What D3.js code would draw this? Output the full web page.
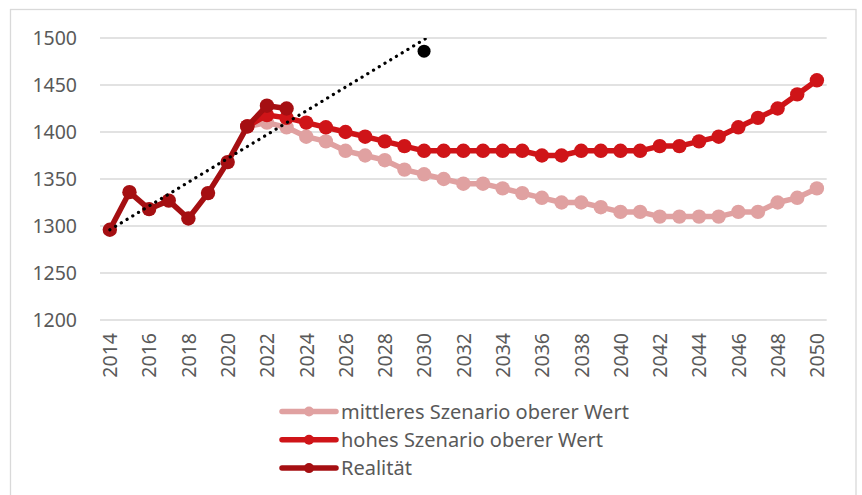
<!DOCTYPE html>
<html>
<head>
<meta charset="utf-8">
<script src="https://cdn.jsdelivr.net/npm/d3@7/dist/d3.min.js"></script>
<style>
  html, body { margin: 0; padding: 0; background: #fff; }
  svg { display: block; }
  text { font-family: "Noto Sans", "Open Sans", sans-serif; fill: #595959; }
</style>
</head>
<body>
<svg id="chart" width="862" height="495"></svg>
<script>
// ---- data ----
const years = d3.range(2014, 2051);
const yTicks = [1200, 1250, 1300, 1350, 1400, 1450, 1500];
const xTickYears = d3.range(2014, 2051, 2);

const realYears = [2014, 2015, 2016, 2017, 2018, 2019, 2020, 2021, 2022, 2023];
const realValues = [1296, 1336, 1318, 1327, 1308, 1335, 1368, 1406, 1428, 1425];

const scenYears = d3.range(2021, 2051);
const mittleresValues = [1406, 1410, 1405, 1395, 1390, 1380, 1375, 1370, 1360, 1355,
  1350, 1345, 1345, 1340, 1335, 1330, 1325, 1325, 1320, 1315,
  1315, 1310, 1310, 1310, 1310, 1315, 1315, 1325, 1330, 1340];
const hohesValues = [1406, 1418, 1415, 1410, 1405, 1400, 1395, 1390, 1385, 1380,
  1380, 1380, 1380, 1380, 1380, 1375, 1375, 1380, 1380, 1380,
  1380, 1385, 1385, 1390, 1395, 1405, 1415, 1425, 1440, 1455];

const trendYears = [2014, 2030.25];
const trendValues = [1296, 1501.5];
const targetYear = [2030];
const targetValue = [1486];

const seriesNames = ["mittleres Szenario oberer Wert", "hohes Szenario oberer Wert", "Realität"];
const seriesColors = ["#E0A1A1", "#CF1418", "#A50F12"];

// ---- layout ----
const svg = d3.select("#chart");
const plot = { left: 100, right: 826.7, top: 38, bottom: 320 };
const axisFont = 19.5;

svg.append("rect")
  .attr("x", 10.5).attr("y", 9.5).attr("width", 845.5).attr("height", 500)
  .attr("fill", "#fff").attr("stroke", "#D9D9D9").attr("stroke-width", 1.3);

const x = d3.scalePoint().domain(years).range([plot.left, plot.right]).padding(0.5);
const xLin = d3.scaleLinear().domain([2014, 2050]).range([x(2014), x(2050)]);
const y = d3.scaleLinear().domain([1200, 1500]).range([plot.bottom, plot.top]);

// grid
svg.append("g").selectAll("line").data(yTicks).join("line")
  .attr("x1", plot.left).attr("x2", plot.right)
  .attr("y1", d => y(d)).attr("y2", d => y(d))
  .attr("stroke", "#D9D9D9").attr("stroke-width", 1.3);

// y axis labels
const yAxis = d3.axisLeft(y).tickValues(yTicks).tickFormat(d3.format("d")).tickSize(0).tickPadding(0);
const yg = svg.append("g").attr("transform", `translate(${77},0)`).call(yAxis);
yg.select(".domain").remove();
yg.selectAll("text").attr("font-size", axisFont).attr("fill", "#595959")
  .style("font-family", '"Noto Sans", sans-serif');

// x axis labels (rotated)
const xAxis = d3.axisBottom(x).tickValues(xTickYears).tickFormat(d3.format("d")).tickSize(0).tickPadding(0);
const xg = svg.append("g").attr("transform", `translate(0,${plot.bottom})`).call(xAxis);
xg.select(".domain").remove();
xg.selectAll("text")
  .attr("font-size", axisFont).attr("fill", "#595959")
  .style("font-family", '"Noto Sans", sans-serif')
  .attr("text-anchor", "end")
  .attr("transform", "rotate(-90)")
  .attr("x", -13).attr("y", 0).attr("dy", "0.35em");

// series
const line = d3.line().x(d => x(d[0])).y(d => y(d[1]));
const series = [
  { name: seriesNames[0], color: seriesColors[0], pts: d3.zip(scenYears, mittleresValues) },
  { name: seriesNames[1], color: seriesColors[1], pts: d3.zip(scenYears, hohesValues) },
  { name: seriesNames[2], color: seriesColors[2], pts: d3.zip(realYears, realValues) }
];
series.forEach(s => {
  const g = svg.append("g");
  g.append("path").datum(s.pts).attr("d", line)
    .attr("fill", "none").attr("stroke", s.color).attr("stroke-width", 5.5)
    .attr("stroke-linejoin", "round");
  g.selectAll("circle").data(s.pts).join("circle")
    .attr("cx", d => x(d[0])).attr("cy", d => y(d[1])).attr("r", 7.2)
    .attr("fill", s.color);
});

// trend line (clipped to plot)
svg.append("clipPath").attr("id", "clip").append("rect")
  .attr("x", plot.left - 20).attr("y", plot.top).attr("width", plot.right - plot.left + 40)
  .attr("height", plot.bottom - plot.top);
svg.append("path").datum(d3.zip(trendYears, trendValues))
  .attr("clip-path", "url(#clip)")
  .attr("d", d3.line().x(d => xLin(d[0])).y(d => y(d[1])))
  .attr("fill", "none").attr("stroke", "#000").attr("stroke-width", 3.2)
  .attr("stroke-linecap", "round").attr("stroke-dasharray", "0.1 6.6");

svg.append("g").selectAll("circle").data(d3.zip(targetYear, targetValue)).join("circle")
  .attr("cx", d => x(d[0])).attr("cy", d => y(d[1])).attr("r", 6.5).attr("fill", "#000");

// legend
const lg = svg.append("g");
seriesNames.forEach((n, i) => {
  const cy = 411.5 + i * 28.3;
  lg.append("line").attr("x1", 282).attr("x2", 336).attr("y1", cy).attr("y2", cy)
    .attr("stroke", seriesColors[i]).attr("stroke-width", 5.5).attr("stroke-linecap", "round");
  lg.append("circle").attr("cx", 309).attr("cy", cy).attr("r", 5).attr("fill", seriesColors[i]);
  lg.append("text").attr("x", 341).attr("y", cy).attr("dy", "0.35em")
    .attr("font-size", 20).text(n);
});
</script>
</body>
</html>
